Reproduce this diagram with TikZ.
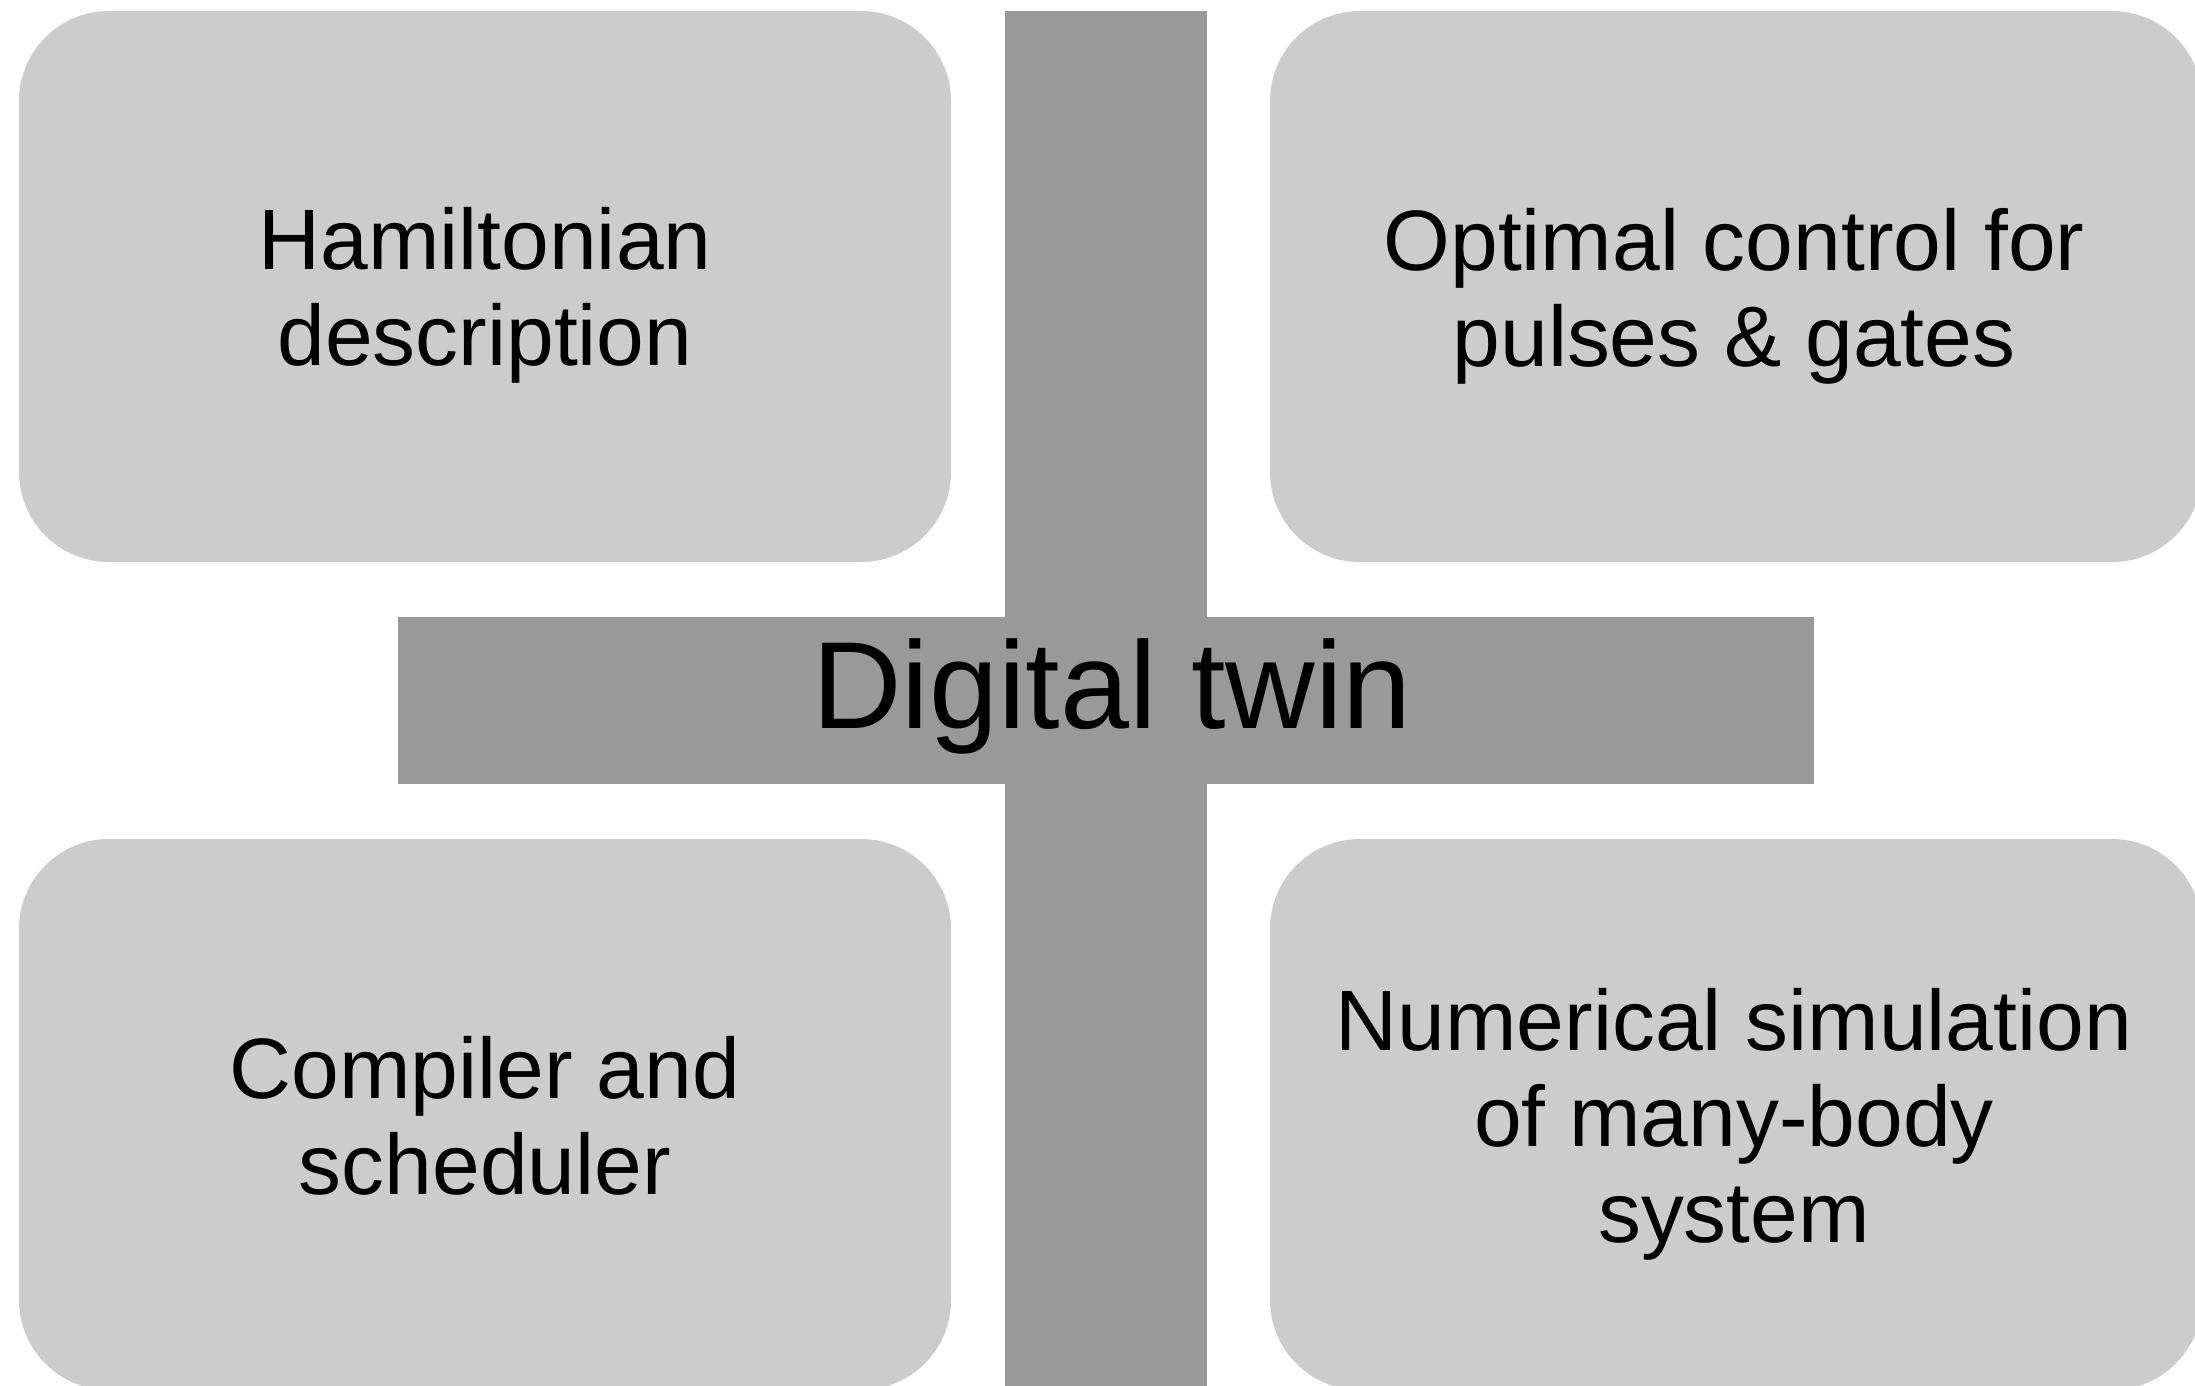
\documentclass[tikz,border=0pt]{standalone}
\usepackage{fontspec}
\setmainfont{Liberation Sans}
\definecolor{cardgray}{HTML}{CCCCCC}
\definecolor{bargray}{HTML}{999999}
\tikzset{
  card/.style={fill=cardgray, draw=none, rounded corners=90pt, anchor=north west,
               minimum width=932pt, minimum height=551pt, inner sep=0pt, outer sep=0pt},
  bar/.style={fill=bargray, draw=none, anchor=north west, inner sep=0pt, outer sep=0pt},
  lbl/.style={font=\fontsize{85.8}{96}\selectfont, align=center, anchor=base,
              inner sep=0pt, text=black},
  titlelbl/.style={font=\fontsize{124}{140}\selectfont, anchor=base, inner sep=0pt, text=black}
}
\begin{document}
\begin{tikzpicture}[x=1pt, y=-1pt]
  \useasboundingbox (0,0) rectangle (2195,1386);
  \clip (0,0) rectangle (2195,1386);
  % cards
  \node[card] (ham)  at (19,11)    {};
  \node[card] (opt)  at (1270,11)  {};
  \node[card] (comp) at (19,839)   {};
  \node[card] (num)  at (1270,839) {};
  % cross bars
  \node[bar, minimum width=202pt, minimum height=1400pt] (vbar) at (1005,11) {};
  \node[bar, minimum width=1416pt, minimum height=167pt] (hbar) at (398,617) {};
  % texts (anchor base = baseline of the last line)
  \node[lbl] (hamtxt)  at (485,365)  {Hamiltonian\\description};
  \node[lbl] (opttxt)  at (1734,366) {Optimal control for\\pulses \& gates};
  \node[lbl] (comptxt) at (485,1194) {Compiler and\\scheduler};
  \node[lbl] (numtxt)  at (1734,1242) {Numerical simulation\\of many-body\\system};
  \node[titlelbl] (dt) at (1112,728) {Digital twin};
\end{tikzpicture}
\end{document}
